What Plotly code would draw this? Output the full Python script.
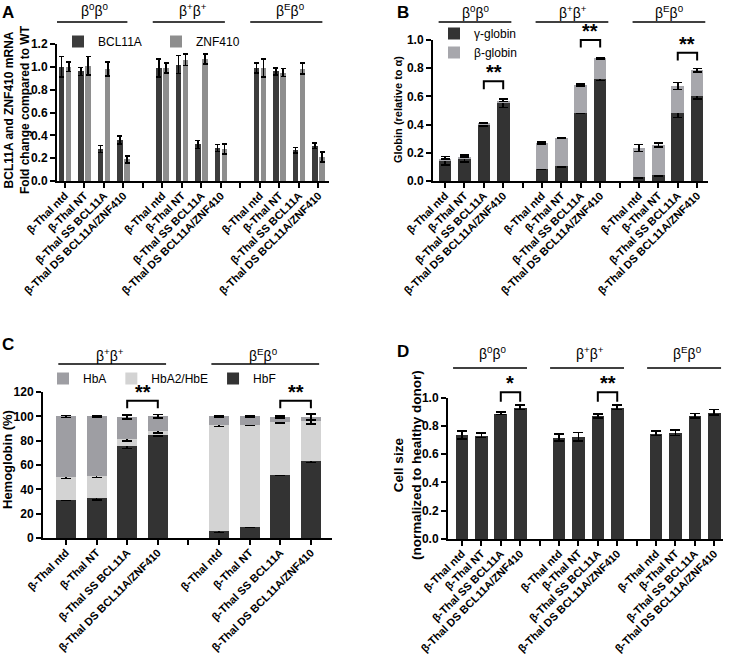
import plotly.graph_objects as go

W, H = 729, 655
FONT = "Liberation Sans, Arial, Helvetica, sans-serif"


def px(x):
    return x / W


def py(y):
    return 1 - y / H


# ---------------- data ----------------
conditions = ["β-Thal ntd", "β-Thal NT", "β-Thal SS BCL11A", "β-Thal DS BCL11A/ZNF410"]
genotypes_3 = ["β<sup>0</sup>β<sup>0</sup>", "β<sup>+</sup>β<sup>+</sup>", "β<sup>E</sup>β<sup>0</sup>"]
genotypes_C = ["β<sup>+</sup>β<sup>+</sup>", "β<sup>E</sup>β<sup>0</sup>"]

# Panel A: mRNA fold change (3 genotypes x 4 conditions)
bcl11a = [1.00, 0.96, 0.28, 0.36, 0.99, 1.02, 0.32, 0.29, 0.99, 0.96, 0.27, 0.31]
bcl11a_err = [0.09, 0.035, 0.03, 0.035, 0.08, 0.08, 0.035, 0.03, 0.045, 0.03, 0.025, 0.025]
znf410 = [1.00, 1.01, 0.98, 0.19, 0.99, 1.06, 1.07, 0.28, 0.99, 0.95, 0.985, 0.21]
znf410_err = [0.04, 0.08, 0.06, 0.03, 0.045, 0.05, 0.045, 0.045, 0.08, 0.035, 0.05, 0.045]

# Panel B: globin relative to alpha (stacked)
gamma_globin = [0.145, 0.16, 0.40, 0.55, 0.087, 0.106, 0.485, 0.725, 0.03, 0.04, 0.48, 0.60]
gamma_globin_err = [0.03, 0.025, 0.01, 0.03, 0.003, 0.005, 0.003, 0.012, 0.01, 0.005, 0.03, 0.02]
beta_globin = [0.01, 0.01, 0.01, 0.015, 0.183, 0.199, 0.195, 0.145, 0.205, 0.215, 0.195, 0.185]
beta_globin_err = [None, None, None, None, 0.008, 0.004, 0.007, 0.006, 0.025, 0.015, 0.025, 0.012]

# Panel C: hemoglobin % (2 genotypes x 4 conditions, stacked)
hbf = [31.5, 32.5, 75.5, 85.0, 6.0, 9.0, 52.0, 63.0]
hbf_err = [0.7, 1.2, 1.8, 1.2, 1.5, 0.4, 0.4, 0.8]
hba2_hbe = [18.5, 18.5, 5.5, 2.7, 87.0, 84.0, 43.5, 33.0]
hba2_hbe_err = [1.0, 1.2, 1.2, 1.2, 1.2, 0.5, 1.2, 2.5]
hba = [50.0, 49.0, 18.5, 12.3, 7.0, 7.0, 4.0, 3.5]
hba_err = [0.8, 0.3, 1.5, 1.5, 0.7, 0.3, 1.0, 2.5]

# Panel D: cell size normalized to healthy donor
cell_size = [0.736, 0.734, 0.89, 0.932, 0.72, 0.724, 0.87, 0.932, 0.748, 0.752, 0.873, 0.896]
cell_size_err = [0.03, 0.015, 0.01, 0.015, 0.025, 0.03, 0.015, 0.015, 0.015, 0.02, 0.015, 0.02]

# significance brackets: (x_from, x_to, top, leg_bottom, label)
brackets_B = [(2, 3, 0.707, 0.65, "**"), (7, 8, 1.0, 0.946, "**"), (12, 13, 0.91, 0.855, "**")]
brackets_C = [(2, 3, 112.8, 106.6, "**"), (7, 8, 112.8, 106.6, "**")]
brackets_D = [(2, 3, 1.038, 0.972, "*"), (7, 8, 1.038, 0.972, "**")]

# ---------------- positions ----------------
n_cond = len(conditions)
pos3 = [g * (n_cond + 1) + c for g in range(3) for c in range(n_cond)]
pos2 = [g * (n_cond + 1) + c for g in range(2) for c in range(n_cond)]
ticktext3 = conditions + [""] + conditions + [""] + conditions
ticktext2 = conditions + [""] + conditions

C_DARK = "#333333"

fig = go.Figure()


def err(arr, w):
    return dict(type="data", array=arr, visible=True, color="black", thickness=1.6, width=w)


# Panel A
fig.add_trace(go.Bar(x=[p - 0.18 for p in pos3], y=bcl11a, width=0.28, name="BCL11A",
                     marker=dict(color="#3c3c3c", line=dict(width=0)), error_y=err(bcl11a_err, 2.5),
                     xaxis="x", yaxis="y", legend="legend"))
fig.add_trace(go.Bar(x=[p + 0.19 for p in pos3], y=znf410, width=0.28, name="ZNF410",
                     marker=dict(color="#8e8e8e", line=dict(width=0)), error_y=err(znf410_err, 2.5),
                     xaxis="x", yaxis="y", legend="legend"))

# Panel B
fig.add_trace(go.Bar(x=pos3, y=gamma_globin, width=0.65, name="γ-globin",
                     marker=dict(color=C_DARK, line=dict(width=0)), error_y=err(gamma_globin_err, 4.5),
                     xaxis="x2", yaxis="y2", legend="legend2"))
fig.add_trace(go.Bar(x=pos3, y=beta_globin, width=0.65, name="β-globin",
                     marker=dict(color="#a7a7ac", line=dict(width=0)), error_y=err(beta_globin_err, 4.5),
                     xaxis="x2", yaxis="y2", legend="legend2"))

# Panel C
fig.add_trace(go.Bar(x=pos2, y=hbf, width=0.65, name="HbF",
                     marker=dict(color=C_DARK, line=dict(width=0)), error_y=err(hbf_err, 5),
                     xaxis="x3", yaxis="y3", legend="legend3"))
fig.add_trace(go.Bar(x=pos2, y=hba2_hbe, width=0.65, name="HbA2/HbE",
                     marker=dict(color="#d3d3d3", line=dict(width=0)), error_y=err(hba2_hbe_err, 5),
                     xaxis="x3", yaxis="y3", legend="legend3"))
fig.add_trace(go.Bar(x=pos2, y=hba, width=0.65, name="HbA",
                     marker=dict(color="#9e9ea3", line=dict(width=0)), error_y=err(hba_err, 5),
                     xaxis="x3", yaxis="y3", legend="legend3"))

# Panel D
fig.add_trace(go.Bar(x=pos3, y=cell_size, width=0.65, name="Cell size", showlegend=False,
                     marker=dict(color=C_DARK, line=dict(width=0)), error_y=err(cell_size_err, 5),
                     xaxis="x4", yaxis="y4"))

xtickfont = dict(family=FONT, size=11, color="black", weight="bold")
ytickfont = dict(family=FONT, size=12, color="black", weight="bold")

# axis geometry (pixels) and ranges
geom = {
    "A": dict(xpx=(57, 329), ypx=(44, 181), xr=[-0.41, 13.54], yr=[0, 1.2]),
    "B": dict(xpx=(433, 708), ypx=(40, 181), xr=[-0.62, 13.56], yr=[0, 1.0]),
    "C": dict(xpx=(43, 332), ypx=(392, 538), xr=[-0.75, 8.69], yr=[0, 120]),
    "D": dict(xpx=(448, 723), ypx=(397.7, 539), xr=[-0.72, 13.45], yr=[0, 1.0]),
}


def xax(p, ticktext, anchor):
    g = geom[p]
    return dict(domain=[px(g["xpx"][0]), px(g["xpx"][1])], range=g["xr"],
                tickmode="array", tickvals=list(range(len(ticktext))), ticktext=ticktext,
                tickangle=-45, showline=True, linecolor="black", linewidth=2,
                ticks="outside", ticklen=5, tickwidth=2, tickcolor="black", automargin=False,
                ticklabelstandoff=-3,
                tickfont=xtickfont, showgrid=False, zeroline=False, anchor=anchor, fixedrange=True)


def yax(p, dtick, fmt, anchor):
    g = geom[p]
    return dict(domain=[py(g["ypx"][1]), py(g["ypx"][0])], range=g["yr"], dtick=dtick, tick0=0,
                tickformat=fmt, showline=True, linecolor="black", linewidth=2,
                ticks="outside", ticklen=5, tickwidth=2, tickcolor="black", automargin=False,
                tickfont=ytickfont, showgrid=False, zeroline=False, anchor=anchor, fixedrange=True)


def y_to_paper(p, v):
    g = geom[p]
    d0, d1 = py(g["ypx"][1]), py(g["ypx"][0])
    r0, r1 = g["yr"]
    return d0 + (v - r0) / (r1 - r0) * (d1 - d0)


legend_common = dict(bgcolor="rgba(0,0,0,0)", font=dict(family=FONT, size=12, color="black"),
                     xanchor="left", yanchor="top", borderwidth=0)

fig.update_layout(
    width=W, height=H, autosize=False,
    margin=dict(l=0, r=0, t=0, b=0, autoexpand=False),
    paper_bgcolor="white", plot_bgcolor="white",
    barmode="stack", bargap=0,
    font=dict(family=FONT, color="black"),
    xaxis=xax("A", ticktext3, "y"),
    yaxis=yax("A", 0.2, ".1f", "x"),
    xaxis2=xax("B", ticktext3, "y2"),
    yaxis2=yax("B", 0.2, ".1f", "x2"),
    xaxis3=xax("C", ticktext2, "y3"),
    yaxis3=yax("C", 20, "d", "x3"),
    xaxis4=xax("D", ticktext3, "y4"),
    yaxis4=yax("D", 0.2, ".1f", "x4"),
    legend=dict(legend_common, x=px(58), y=py(27), orientation="h", traceorder="normal", entrywidth=53),
    legend2=dict(legend_common, x=px(434), y=py(19), orientation="v", traceorder="normal", tracegroupgap=0),
    legend3=dict(legend_common, x=px(43), y=py(364), orientation="h", traceorder="reversed"),
)

annotations = []
shapes = []

# panel letters
for letter, (lx, ly) in zip("ABCD", [(8, 12), (403, 12), (8, 344), (403, 351)]):
    annotations.append(dict(text="<b>%s</b>" % letter, x=px(lx), y=py(ly), xref="paper", yref="paper",
                            showarrow=False, font=dict(family=FONT, size=17, color="black"),
                            xanchor="center", yanchor="middle"))


# group headers
def group_headers(names, xref, start_off, end_off, text_off, line_y, text_y):
    for g, name in enumerate(names):
        base = g * (n_cond + 1)
        shapes.append(dict(type="line", xref=xref, yref="paper", x0=base + start_off, x1=base + end_off,
                           y0=py(line_y), y1=py(line_y), line=dict(color="black", width=1.5)))
        annotations.append(dict(text=name, x=base + text_off, y=py(text_y), xref=xref, yref="paper",
                                showarrow=False, font=dict(family=FONT, size=14, color="black"),
                                xanchor="center", yanchor="middle"))


group_headers(genotypes_3, "x", -0.5, 3.2, 1.55, 22, 10)
group_headers(genotypes_3, "x2", -0.33, 3.42, 1.6, 22, 12)
group_headers(genotypes_C, "x3", -0.25, 3.27, 1.45, 364, 355)
group_headers(genotypes_3, "x4", -0.46, 3.35, 1.6, 368, 353)


def add_brackets(brs, p, xref):
    for x0, x1, top, bot, label in brs:
        yt, yb = y_to_paper(p, top), y_to_paper(p, bot)
        shapes.append(dict(type="path", xref=xref, yref="paper",
                           path="M %g,%g L %g,%g L %g,%g L %g,%g" % (x0, yb, x0, yt, x1, yt, x1, yb),
                           line=dict(color="black", width=2)))
        annotations.append(dict(text="<b>%s</b>" % label, x=(x0 + x1) / 2, y=yt, xref=xref, yref="paper",
                                showarrow=False, font=dict(family=FONT, size=20, color="black"),
                                xanchor="center", yanchor="bottom", yshift=-4))


add_brackets(brackets_B, "B", "x2")
add_brackets(brackets_C, "C", "x3")
add_brackets(brackets_D, "D", "x4")

# y-axis titles
annotations.append(dict(text="<b>BCL11A and ZNF410 mRNA<br>Fold change compared to WT</b>", x=px(17), y=py(110),
                        xref="paper", yref="paper", textangle=-90, showarrow=False,
                        font=dict(family=FONT, size=12, color="black"), xanchor="center", yanchor="middle"))
annotations.append(dict(text="<b>Globin (relative to α)</b>", x=px(398), y=py(110),
                        xref="paper", yref="paper", textangle=-90, showarrow=False,
                        font=dict(family=FONT, size=11, color="black"), xanchor="center", yanchor="middle"))
annotations.append(dict(text="<b>Hemoglobin (%)</b>", x=px(8), y=py(460),
                        xref="paper", yref="paper", textangle=-90, showarrow=False,
                        font=dict(family=FONT, size=13, color="black"), xanchor="center", yanchor="middle"))
annotations.append(dict(text="<b>Cell size<br>(normalized to healthy donor)</b>", x=px(407), y=py(465),
                        xref="paper", yref="paper", textangle=-90, showarrow=False,
                        font=dict(family=FONT, size=13.5, color="black"), xanchor="center", yanchor="middle"))

fig.update_layout(annotations=annotations, shapes=shapes)

fig.write_html("out.html", config={"displayModeBar": False},
               post_script="document.body.style.margin='0';")
